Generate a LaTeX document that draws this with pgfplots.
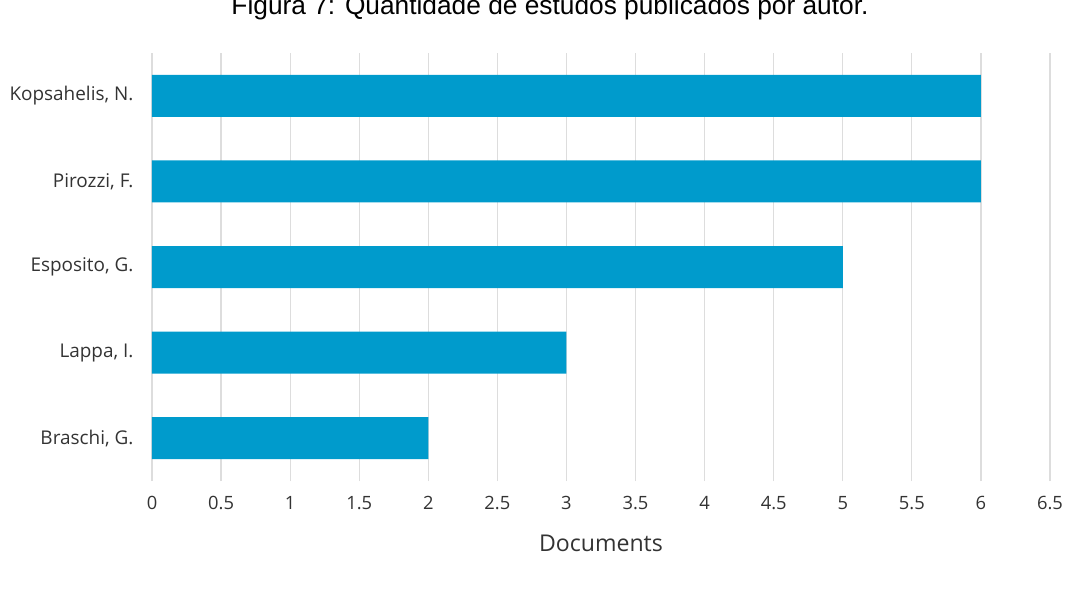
\documentclass[border=0pt]{standalone}
\usepackage{fontspec}
\setmainfont{Open Sans}
\newfontfamily\titlefont{Liberation Sans}
\usepackage{pgfplots}
\pgfplotsset{compat=1.18}
\definecolor{barblue}{HTML}{009BCC}
\definecolor{gridgray}{HTML}{DDDDDD}
\definecolor{txt}{HTML}{333333}

\begin{document}
\begin{tikzpicture}
\begin{axis}[
  at={(0,0)}, anchor=south west,
  scale only axis,
  width=449bp, height=214bp,
  xbar,
  bar width=21bp,
  xmin=0, xmax=6.5,
  ymin=-0.5, ymax=4.5,
  xtick={0,0.5,...,6.5},
  ytick={0,1,2,3,4},
  yticklabels={{Braschi, G.},{Lappa, I.},{Esposito, G.},{Pirozzi, F.},{Kopsahelis, N.}},
  xmajorgrids,
  grid style={gridgray, line width=0.6bp},
  axis line style={draw=none},
  major tick style={draw=none},
  tick label style={text=txt},
  x tick label style={font=\fontsize{9.2}{10}\selectfont, yshift=-4bp},
  y tick label style={font=\fontsize{9.5}{11}\selectfont, xshift=-1.5bp},
  /pgf/number format/assume math mode=true,
  xticklabel={\pgfmathprintnumber[fixed,precision=1]{\tick}},
  xlabel={Documents},
  xlabel style={font=\fontsize{11.6}{13}\selectfont, text=txt, yshift=-6bp},
]
\addplot[fill=barblue, draw=none] coordinates {(2,0) (3,1) (5,2) (6,3) (6,4)};
\end{axis}
\node[font=\titlefont\fontsize{13.2}{15}\selectfont, anchor=base] at (199bp,233bp) {Figura 7: Quantidade de estudos publicados por autor.};
\pgfresetboundingbox
\useasboundingbox (-76bp,-58bp) rectangle (466.5bp,240.5bp);
\end{tikzpicture}
\end{document}
